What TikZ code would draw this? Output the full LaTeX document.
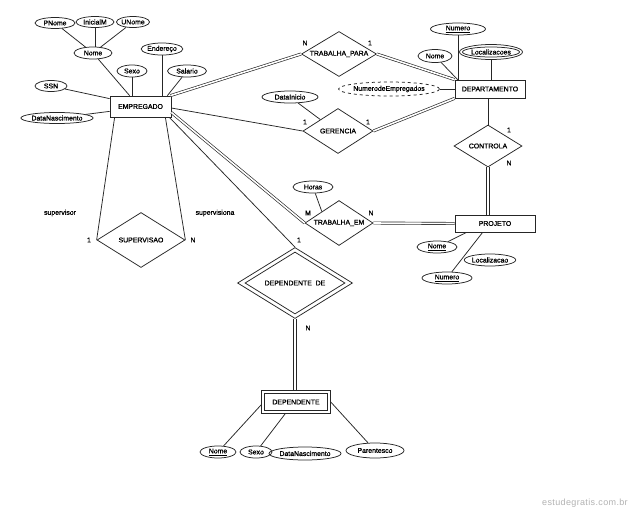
\documentclass[tikz,border=0pt]{standalone}
\usepackage{fontspec}
\setmainfont{Liberation Sans}[FakeBold=1.2]
\usetikzlibrary{shapes.geometric,calc}
\newcommand{\erfont}{\fontsize{6.9}{8}\selectfont}
\tikzset{
  ln/.style={line width=0.75pt, draw=black!85},
  ent/.style={rectangle, draw=black!85, line width=0.75pt, inner sep=0pt, font=\erfont},
  attr/.style={ellipse, draw=black!85, line width=0.75pt, inner sep=0pt, font=\erfont},
  rel/.style={diamond, draw=black!85, line width=0.75pt, inner sep=0pt, font=\erfont},
  lbl/.style={inner sep=0pt, font=\erfont},
  dbl/.style={double, double distance=1.6pt, line width=0.65pt, draw=black!85},
}
\begin{document}
\begin{tikzpicture}[x=1pt,y=-1pt]
\fill[white] (0,0) rectangle (633,512);
\useasboundingbox (0,0) rectangle (633,512);

% EMPREGADO and attributes
\node[ent, minimum width=61pt, minimum height=21pt] (emp) at (140.5,106.5) {EMPREGADO};
\node[attr, minimum width=40pt, minimum height=11pt] (pnome) at (55,23) {PNome};
\node[attr, minimum width=38pt, minimum height=11pt] (inim) at (95,22) {InicialM};
\node[attr, minimum width=33pt, minimum height=11pt] (unome) at (133,22) {UNome};
\node[attr, minimum width=38pt, minimum height=12pt] (enome) at (93,53) {Nome};
\node[attr, minimum width=39pt, minimum height=12pt] (ender) at (162,49) {Endereço};
\node[attr, minimum width=30pt, minimum height=12pt] (sexo) at (132,71) {Sexo};
\node[attr, minimum width=39pt, minimum height=12pt] (sal) at (187,71) {Salario};
\node[attr, minimum width=32pt, minimum height=11pt] (ssn) at (51,86) {SSN};
\node[attr, minimum width=62pt, minimum height=11pt] (dnasc) at (57,118) {DataNascimento};

\draw[ln] (pnome) -- (enome);
\draw[ln] (inim.south) -- (inim.south |- enome.north);
\draw[ln] (unome) -- (enome);
\draw[ln] (enome) -- ($(emp.north west)+(20,0)$);
\draw[ln] (ender.south) -- (ender.south |- emp.north);
\draw[ln] (sexo.south) -- (sexo.south |- emp.north);
\draw[ln] (sal) -- ($(emp.north east)+(-4,0)$);
\draw[ln] (ssn) -- ($(emp.north west)+(0,3)$);
\draw[ln] (dnasc) -- ($(emp.south west)+(0,-6)$);

% DEPARTAMENTO and attributes
\node[ent, minimum width=70pt, minimum height=18pt] (dept) at (490,89) {DEPARTAMENTO};
\node[attr, minimum width=55pt, minimum height=12pt] (dnum) at (458,29) {\underline{Numero}};
\node[attr, minimum width=63pt, minimum height=15pt] (dloc) at (491,52) {};
\node[attr, minimum width=57pt, minimum height=10pt] (dloci) at (491,52) {Localizacoes};
\node[attr, minimum width=34pt, minimum height=13pt] (dnome) at (435,56) {Nome};
\node[attr, dashed, minimum width=92pt, minimum height=14pt] (nemp) at (389,89) {NumerodeEmpregados};

\draw[ln] (dnum.south) -- (dnum.south |- dept.north);
\draw[ln] (dloc.south) -- (dloc.south |- dept.north);
\draw[ln] (dnome) -- ($(dept.north west)+(3,0)$);
\draw[ln] (nemp.east) -- (dept.west);

% TRABALHA_PARA
\node[rel, minimum width=75pt, minimum height=45pt, aspect=1.67] (tp) at (339,54) {TRABALHA\_PARA};
\draw[dbl] ($(emp.north east)+(-1,0)$) -- (tp.west);
\draw[dbl] (tp.east) -- (dept.north west);
\node[lbl] (tpn) at (305,43) {N};
\node[lbl] (tp1) at (370,43) {1};

% GERENCIA
\node[rel, minimum width=70pt, minimum height=45pt, aspect=1.56] (ger) at (338,131) {GERENCIA};
\node[attr, minimum width=56pt, minimum height=12pt] (dini) at (290,97) {DataInicio};
\draw[ln] (dini) -- (ger.north west);
\draw[ln] ($(emp.east)+(0,1.5)$) -- (ger.west);
\draw[dbl] (ger.east) -- (dept.south west);
\node[lbl] (g1a) at (305,122) {1};
\node[lbl] (g1b) at (368,122) {1};

% CONTROLA
\node[rel, minimum width=68pt, minimum height=42pt, aspect=1.62] (ctrl) at (488,146) {CONTROLA};
\draw[ln] (ctrl.north |- dept.south) -- (ctrl.north);
\node[lbl] (c1) at (509,130) {1};
\node[lbl] (cn) at (509,163) {N};

% PROJETO
\node[ent, minimum width=80pt, minimum height=17pt] (proj) at (495,223.5) {PROJETO};
\draw[ln] ($(ctrl.south)+(-1.2,0)$) -- ($(ctrl.south |- proj.north)+(-1.2,0)$);
\draw[ln] ($(ctrl.south)+(1.2,0)$) -- ($(ctrl.south |- proj.north)+(1.2,0)$);
\node[attr, minimum width=40pt, minimum height=12pt] (pnom) at (437,247) {\underline{Nome}};
\node[attr, minimum width=50pt, minimum height=12pt] (ploc) at (490,260) {Localizacao};
\node[attr, minimum width=50pt, minimum height=12pt] (pnum) at (447,278) {\underline{Numero}};
\draw[ln] (pnom) -- ($(proj.south west)+(12,0)$);
\draw[ln] (pnum) -- ($(proj.south west)+(28,0)$);
\draw[ln] ($(proj.south west)+(33,0)$) -- ($(proj.south west)+(33,0)$ |- ploc.north);

% TRABALHA_EM
\node[rel, minimum width=68pt, minimum height=45pt, aspect=1.51] (tem) at (339,223) {TRABALHA\_EM};
\node[attr, minimum width=40pt, minimum height=12pt] (horas) at (313,187) {Horas};
\draw[ln] (horas) -- (tem.north west);
\draw[dbl] ($(emp.east)+(0,6)$) -- (tem.west);
\draw[dbl] (tem.east) -- (proj.west);
\node[lbl] (tm) at (308,213) {M};
\node[lbl] (tn) at (371,213) {N};

% SUPERVISAO
\node[rel, minimum width=88pt, minimum height=55pt, aspect=1.6] (sup) at (141,240) {SUPERVISAO};
\draw[ln] ($(emp.south west)+(5,0)$) -- (sup.west);
\draw[ln] ($(emp.south east)+(-6,0)$) -- (sup.east);
\node[lbl] (svr) at (60,213) {supervisor};
\node[lbl] (svn) at (215,213) {supervisiona};
\node[lbl] (s1) at (89,240) {1};
\node[lbl] (sn) at (193,240) {N};

% DEPENDENTE DE
\node[rel, minimum width=115pt, minimum height=71pt, aspect=1.62] (depde) at (295,283) {};
\node[rel, minimum width=100pt, minimum height=62pt, aspect=1.62] (depdei) at (295,283) {DEPENDENTE\ \ DE};
\draw[ln] ($(emp.south east)+(-2,0)$) -- (depde.north);
\node[lbl] (d1) at (299,240) {1};
\node[lbl] (dn) at (308,328) {N};

% DEPENDENTE
\node[ent, minimum width=69pt, minimum height=23pt] (dep) at (296,402) {};
\node[ent, minimum width=63pt, minimum height=17pt] (depi) at (296,402) {DEPENDENTE};
\draw[ln] ($(depde.south)+(-1.2,0)$) -- ($(depde.south |- dep.north)+(-1.2,0)$);
\draw[ln] ($(depde.south)+(1.2,0)$) -- ($(depde.south |- dep.north)+(1.2,0)$);
\node[attr, minimum width=36pt, minimum height=12pt] (qnome) at (218,452) {\underline{Nome}};
\node[attr, minimum width=32pt, minimum height=12pt] (qsexo) at (256,452) {Sexo};
\node[attr, minimum width=60pt, minimum height=13pt] (qdn) at (305,453.5) {DataNascimento};
\node[attr, minimum width=58pt, minimum height=15pt] (qpar) at (375,450.5) {Parentesco};
\draw[ln] (qnome) -- ($(dep.south west)+(0,-9)$);
\draw[ln] (qsexo) -- ($(dep.south west)+(24,0)$);
\draw[ln] ($(dep.south)+(2,0)$) -- ($(dep.south)+(2,0)$ |- qdn.north);
\draw[ln] (qpar) -- ($(dep.north east)+(0,12)$);

% watermark
\node[inner sep=0pt, text=black!30, font=\fontsize{9}{10}\selectfont\addfontfeature{FakeBold=0,LetterSpace=4}] (wm) at (585,503) {estudegratis.com.br};
\end{tikzpicture}
\end{document}
